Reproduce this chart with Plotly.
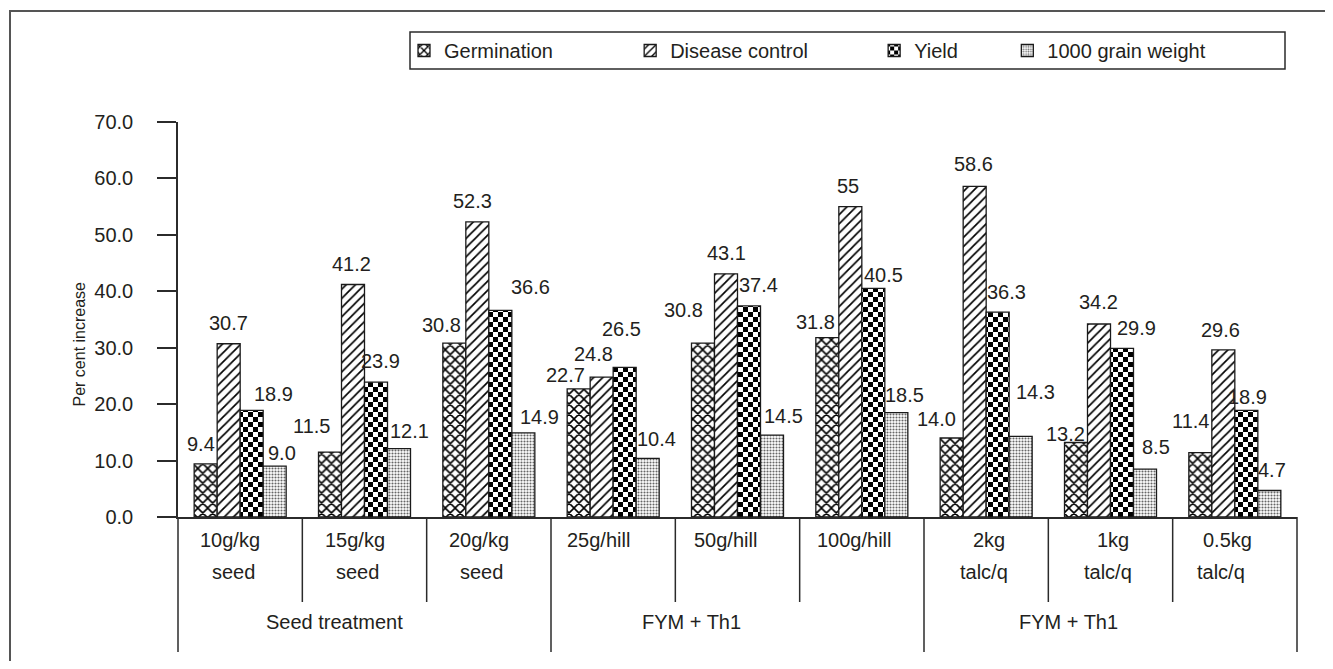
import plotly.graph_objects as go

# ---------------- data ----------------
categories = ["10g/kg\nseed", "15g/kg\nseed", "20g/kg\nseed",
              "25g/hill", "50g/hill", "100g/hill",
              "2kg\ntalc/q", "1kg\ntalc/q", "0.5kg\ntalc/q"]
groups = ["Seed treatment", "FYM + Th1", "FYM + Th1"]
series_names = ["Germination", "Disease control", "Yield", "1000 grain weight"]
germination = [9.4, 11.5, 30.8, 22.7, 30.8, 31.8, 14.0, 13.2, 11.4]
disease_control = [30.7, 41.2, 52.3, 24.8, 43.1, 55, 58.6, 34.2, 29.6]
yield_values = [18.9, 23.9, 36.6, 26.5, 37.4, 40.5, 36.3, 29.9, 18.9]
grain_weight = [9.0, 12.1, 14.9, 10.4, 14.5, 18.5, 14.3, 8.5, 4.7]
y_ticks = [0, 10, 20, 30, 40, 50, 60, 70]

series_values = [germination, disease_control, yield_values, grain_weight]

# ---------------- styling / layout helpers ----------------
OFF = 8                      # page body margin
FW, FH = 1333 - 2 * OFF, 669 - 2 * OFF
L, R, T, B = 178, 1297, 122, 517   # plot area in page pixels
FONT = "Liberation Sans, Arial, Helvetica, sans-serif"
INK = "#231f20"
LINE = "#2b2b2b"
BARGAP = 0.26


def px_x(p):
    return (p - L) / (R - L)


def px_y(p):
    return (B - p) / (B - T)


def fmt(v):
    return str(v) if isinstance(v, int) else f"{v:.1f}"


label_dx = [
    [-5, -19, -13, -13, -20, -12, -15, -11, -10],
    [0, -2, -5, -8, 0, -2, -1, -1, -3],
    [22, 4, 30, -3, 9, 10, 9, 14, 1],
    [7, 10, 16, 9, 11, 8, 15, 11, 3],
]
label_dy = [
    [20, 26, 18, 14, 33, 16, 19, 9, 32],
    [21, 21, 21, 23, 21, 21, 22, 22, 20],
    [16, 21, 23, 38, 21, 13, 20, 20, 13],
    [13, 18, 16, 19, 19, 18, 44, 22, 20],
]
cat_dx1 = [-10, -10, -10, -15, -12, -7, 3, 2, -7]
cat_dx2 = [-7, -7, -7, 0, 0, 0, -2, -3, -14]
group_dx = [-30, -46, -42]

pads = [13, 11, 8, 0]
legend_names = [n + "\u00a0" * p for n, p in zip(series_names, pads)]

checker = go.bar.marker.Pattern(path="M0,0H5V5H0Z M5,5H10V10H5Z", size=10, solidity=1,
                                fgcolor="#000000", fgopacity=1, bgcolor="white")

patterns = [
    go.bar.marker.Pattern(shape="x", size=7, solidity=0.4, fgcolor="#000000",
                          fgopacity=1, bgcolor="white"),
    go.bar.marker.Pattern(shape="/", size=6.5, solidity=0.26, fgcolor="#000000",
                          fgopacity=1, bgcolor="white"),
    checker,
    go.bar.marker.Pattern(shape=".", size=3, solidity=0.4, fgcolor="#666666",
                          fgopacity=1, bgcolor="white"),
]

x_idx = list(range(len(categories)))

fig = go.Figure()
for j, vals in enumerate(series_values):
    fig.add_trace(go.Bar(
        x=x_idx, y=vals, name=legend_names[j],
        marker=dict(color="white", pattern=patterns[j],
                    line=dict(color="#1a1a1a", width=1.3)),
        hoverinfo="skip",
    ))

annotations = []
bw = (1 - BARGAP) / len(series_values)
for j, vals in enumerate(series_values):
    for i, v in enumerate(vals):
        annotations.append(dict(
            x=i + (j - 1.5) * bw, y=v, xref="x", yref="y",
            text=fmt(v), showarrow=False,
            xshift=label_dx[j][i], yshift=label_dy[j][i],
            font=dict(family=FONT, size=20, color=INK),
        ))

for i, c in enumerate(categories):
    parts = c.split("\n")
    annotations.append(dict(x=i, y=px_y(553), xref="x", yref="paper", text=parts[0],
                            showarrow=False, xshift=cat_dx1[i],
                            font=dict(family=FONT, size=20, color=INK)))
    if len(parts) > 1:
        annotations.append(dict(x=i, y=px_y(585), xref="x", yref="paper", text=parts[1],
                                showarrow=False, xshift=cat_dx2[i],
                                font=dict(family=FONT, size=20, color=INK)))

for g, name in enumerate(groups):
    annotations.append(dict(x=3 * g + 1, y=px_y(635), xref="x", yref="paper", text=name,
                            showarrow=False, xshift=group_dx[g],
                            font=dict(family=FONT, size=20, color=INK)))

annotations.append(dict(x=px_x(68), y=px_y(344), xref="paper", yref="paper",
                        text="Per cent increase", textangle=-90, showarrow=False,
                        font=dict(family=FONT, size=16, color=INK)))

shapes = []
ncat = len(categories)
for k in range(ncat + 1):
    long_line = (k % 3 == 0)
    shapes.append(dict(type="line", xref="paper", yref="paper",
                       x0=k / ncat, x1=k / ncat, y0=0,
                       y1=px_y(652) if long_line else px_y(602),
                       line=dict(color=LINE, width=1.5)))
shapes.append(dict(type="rect", xref="paper", yref="paper",
                   x0=px_x(410), x1=px_x(1285), y0=px_y(69), y1=px_y(32),
                   line=dict(color=LINE, width=1.5), fillcolor="rgba(0,0,0,0)"))
shapes.append(dict(type="rect", xref="paper", yref="paper",
                   x0=px_x(10), x1=px_x(1345), y0=px_y(685), y1=px_y(11),
                   line=dict(color="#555555", width=2), fillcolor="rgba(0,0,0,0)"))

fig.update_layout(
    width=FW, height=FH,
    margin=dict(l=L - OFF, r=FW - (R - OFF), t=T - OFF, b=FH - (B - OFF), autoexpand=False),
    paper_bgcolor="white", plot_bgcolor="white",
    barmode="group", bargap=BARGAP, bargroupgap=0,
    font=dict(family=FONT, size=20, color=INK),
    showlegend=True,
    legend=dict(orientation="h", x=px_x(404), xanchor="left",
                y=px_y(50.5), yanchor="middle",
                bgcolor="rgba(0,0,0,0)", borderwidth=0,
                font=dict(family=FONT, size=20, color=INK),
                itemwidth=30, traceorder="normal", itemclick=False),
    xaxis=dict(range=[-0.5, ncat - 0.5], showticklabels=False, ticks="",
               showgrid=False, zeroline=False, showline=True,
               linecolor=LINE, linewidth=1.5, fixedrange=True),
    yaxis=dict(range=[0, 70], tickvals=y_ticks,
               ticktext=[f"{t:.1f}" for t in y_ticks],
               ticks="outside", ticklen=19, tickwidth=1.5, tickcolor=LINE,
               ticklabelstandoff=20,
               showgrid=False, zeroline=False, showline=True,
               linecolor=LINE, linewidth=1.5, fixedrange=True,
               tickfont=dict(family=FONT, size=20, color=INK)),
    annotations=annotations,
    shapes=shapes,
)

fig.write_html("out.html")
